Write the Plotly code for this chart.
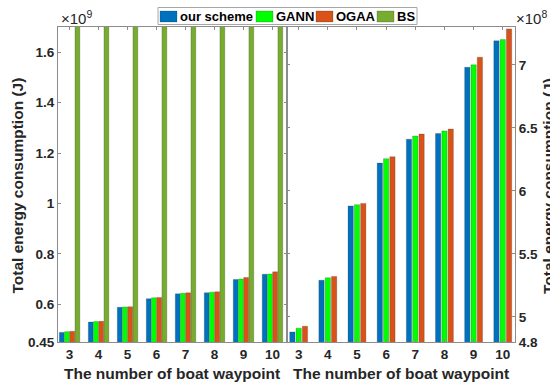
import plotly.graph_objects as go

# Number of boat waypoints on the x axis
waypoints = [3, 4, 5, 6, 7, 8, 9, 10]

# Total energy consumption (J) per scheme
our_scheme = [4.88e8, 5.29e8, 5.88e8, 6.22e8, 6.41e8, 6.455e8, 6.98e8, 7.19e8]
gann = [4.91e8, 5.31e8, 5.89e8, 6.255e8, 6.435e8, 6.475e8, 7.00e8, 7.20e8]
ogaa = [4.925e8, 5.32e8, 5.90e8, 6.27e8, 6.45e8, 6.49e8, 7.06e8, 7.285e8]
bs = [1.90e9, 1.92e9, 1.95e9, 1.97e9, 1.99e9, 2.00e9, 2.05e9, 2.08e9]

series_names = ["our scheme", "GANN", "OGAA", "BS"]

# Left axis ticks (x10^9) and right axis ticks (x10^8)
left_tick_vals = [0.45e9, 0.6e9, 0.8e9, 1.0e9, 1.2e9, 1.4e9, 1.6e9]
left_tick_text = ["0.45", "0.6", "0.8", "1", "1.2", "1.4", "1.6"]
right_tick_vals = [4.8e8, 5.0e8, 5.5e8, 6.0e8, 6.5e8, 7.0e8]
right_tick_text = ["4.8", "5", "5.5", "6", "6.5", "7"]

colors = ["#0072BD", "#00FF00", "#D95319", "#77AC30"]
edge = dict(color="rgba(40,40,40,0.45)", width=0.5)

W, H = 550, 386
TXT = "#262626"
AX = "#8c8c8c"
FAM = "Liberation Sans, Arial, sans-serif"


def px(x):
    return x / W


def py(y):
    return 1 - y / H


fig = go.Figure()

# Left panel: all four schemes, grouped bars
left_sets = [our_scheme, gann, ogaa, bs]
slot_l, bw_l = 0.18, 0.168
for i, (name, vals) in enumerate(zip(series_names, left_sets)):
    fig.add_trace(go.Bar(
        x=waypoints, y=vals, name=name, xaxis="x", yaxis="y",
        width=bw_l, offset=-2 * slot_l + i * slot_l + (slot_l - bw_l) / 2,
        marker=dict(color=colors[i], line=edge), showlegend=False,
    ))

# Right panel: the three close schemes on a finer scale
right_sets = [our_scheme, gann, ogaa]
slot_r, bw_r = 0.216, 0.182
for i, (name, vals) in enumerate(zip(series_names[:3], right_sets)):
    fig.add_trace(go.Bar(
        x=waypoints, y=vals, name=name, xaxis="x2", yaxis="y2",
        width=bw_r, offset=-1.5 * slot_r + i * slot_r + (slot_r - bw_r) / 2,
        marker=dict(color=colors[i], line=edge), showlegend=False,
    ))

tickfont = dict(family=FAM, size=13.5, color=TXT, weight="bold")
common_axis = dict(
    showline=True, linecolor=AX, linewidth=1, mirror="ticks",
    ticks="inside", ticklen=3, tickcolor=AX, tickwidth=1,
    showgrid=False, zeroline=False, tickfont=tickfont,
)

fig.update_layout(
    width=W, height=H, template="none",
    paper_bgcolor="white", plot_bgcolor="white",
    margin=dict(l=0, r=0, t=0, b=0),
    barmode="overlay", showlegend=False,
    xaxis=dict(domain=[px(58), px(287)], range=[2.6, 10.5],
               tickvals=waypoints, anchor="y", **common_axis),
    yaxis=dict(domain=[py(342), py(27)], range=[0.45e9, 1.7e9],
               tickvals=left_tick_vals, ticktext=left_tick_text,
               anchor="x", **common_axis),
    xaxis2=dict(domain=[px(287), px(515)], range=[2.6, 10.42],
                tickvals=waypoints, anchor="y2", **common_axis),
    yaxis2=dict(domain=[py(342), py(27)], range=[4.8e8, 7.3e8],
                tickvals=right_tick_vals, ticktext=right_tick_text,
                anchor="x2", side="right", **common_axis),
)

title_font = dict(family=FAM, size=15.5, color=TXT, weight="bold")
annotations = [
    dict(text="The number of boat waypoint", x=px(171.5), y=py(373)),
    dict(text="The number of boat waypoint", x=px(401), y=py(373)),
    dict(text="Total energy consumption (J)", x=px(17.5), y=py(186), textangle=-90),
    dict(text="Total energy consumption (J)", x=px(549), y=py(186), textangle=-90),
]
for a in annotations:
    fig.add_annotation(xref="paper", yref="paper", showarrow=False,
                       xanchor="center", yanchor="middle", font=title_font, **a)

exp_font = dict(family=FAM, size=15, color=TXT)
fig.add_annotation(text="×10<sup>9</sup>", xref="paper", yref="paper",
                   x=px(59), y=py(17), xanchor="left", yanchor="middle",
                   showarrow=False, font=exp_font)
fig.add_annotation(text="×10<sup>8</sup>", xref="paper", yref="paper",
                   x=px(514), y=py(17), xanchor="left", yanchor="middle",
                   showarrow=False, font=exp_font)

# Legend drawn as a framed row of swatches and labels
legend_font = dict(family=FAM, size=13, color="black", weight="bold")
fig.add_shape(type="rect", xref="paper", yref="paper", layer="above",
              x0=px(158), x1=px(417), y0=py(24.5), y1=py(7.5),
              fillcolor="white", line=dict(color="#a6a6a6", width=1))
swatch_x = [160, 256, 316, 377]
for i, name in enumerate(series_names):
    sx = swatch_x[i]
    fig.add_shape(type="rect", xref="paper", yref="paper", layer="above",
                  x0=px(sx), x1=px(sx + 17), y0=py(22), y1=py(11),
                  fillcolor=colors[i], line=edge)
    fig.add_annotation(text=name, xref="paper", yref="paper",
                       x=px(sx + 18), y=py(16.5), xanchor="left", yanchor="middle",
                       showarrow=False, font=legend_font)

fig.write_html("out.html")
